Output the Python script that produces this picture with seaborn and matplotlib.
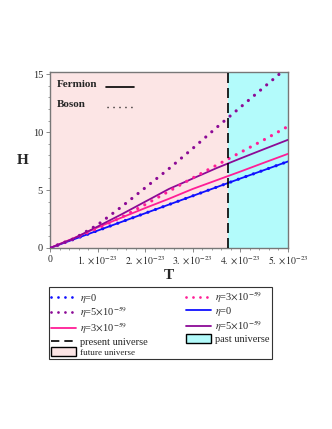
import matplotlib
matplotlib.use("Agg")
import matplotlib.pyplot as plt
import seaborn as sns
import numpy as np
import pandas as pd
from matplotlib.lines import Line2D
from matplotlib.patches import Patch
from matplotlib.ticker import MultipleLocator

sns.set_style("white")
plt.rcParams['font.family'] = ['Liberation Serif', 'DejaVu Serif']
plt.rcParams['mathtext.fontset'] = 'stix'

# ---- data ----
T = [0, 0.5e-23, 1.0e-23, 1.5e-23, 2.0e-23, 2.5e-23, 3.0e-23, 3.5e-23, 4.0e-23, 4.5e-23, 5.0e-23]
H_fermion_eta0 = [0, 0.75, 1.5, 2.25, 3.0, 3.75, 4.5, 5.25, 6.0, 6.73, 7.47]
H_fermion_eta3 = [0, 0.85, 1.78, 2.62, 3.45, 4.25, 5.1, 5.85, 6.6, 7.37, 8.13]
H_fermion_eta5 = [0, 0.82, 1.85, 2.9, 4.0, 5.1, 6.0, 6.9, 7.73, 8.54, 9.34]
H_boson_eta0 = [0, 0.75, 1.5, 2.25, 3.0, 3.75, 4.5, 5.25, 6.0, 6.73, 7.47]
H_boson_eta3 = [0, 0.8, 1.7, 2.65, 3.75, 4.9, 6.05, 7.15, 8.25, 9.35, 10.5]
H_boson_eta5 = [0, 0.8, 2.0, 3.55, 5.2, 6.85, 8.6, 10.4, 12.15, 13.9, 15.65]
T_present = 3.75e-23
T_max = 5.0e-23
xtick_vals = [0, 1e-23, 2e-23, 3e-23, 4e-23, 5e-23]
xtick_labels = ["0", r"$1.\times10^{-23}$", r"$2.\times10^{-23}$", r"$3.\times10^{-23}$",
                r"$4.\times10^{-23}$", r"$5.\times10^{-23}$"]
ytick_vals = [0, 5, 10, 15]

BLUE = "#1010ff"
PINK = "#ff1e96"
PURPLE = "#8c0a96"
FUT = "#fce5e5"
PAST = "#b3fbfb"

DOT = (0.01, 2.5)

fig = plt.figure(figsize=(3.32, 4.29), dpi=100)
ax = fig.add_axes([50/332, 1-248/429, 238/332, 175.5/429])

ax.axvspan(0, T_present, color=FUT, lw=0, zorder=0)
ax.axvspan(T_present, T_max, color=PAST, lw=0, zorder=0)

solid = [(H_fermion_eta0, BLUE), (H_fermion_eta3, PINK), (H_fermion_eta5, PURPLE)]
dotted = [(H_boson_eta0, BLUE), (H_boson_eta3, PINK), (H_boson_eta5, PURPLE)]
for h, c in solid:
    sns.lineplot(x=T, y=h, color=c, lw=1.3, ax=ax, zorder=3)
for h, c in dotted:
    sns.lineplot(x=T, y=h, color=c, lw=2.3, ax=ax, zorder=4)
    ln = ax.lines[-1]
    ln.set_dashes(DOT)
    ln.set_dash_capstyle('round')

ax.axvline(T_present, color="black", lw=1.2, dashes=(6, 3), zorder=5)

ax.set_xlim(0, T_max)
ax.set_ylim(0, 15.15)
ax.set_xticks(xtick_vals)
ax.set_xticklabels(xtick_labels, fontsize=7)
ax.set_yticks(ytick_vals)
ax.set_yticklabels([str(v) for v in ytick_vals], fontsize=7.5)
ax.xaxis.set_minor_locator(MultipleLocator(0.2e-23))
ax.yaxis.set_minor_locator(MultipleLocator(1))
ax.tick_params(axis='both', which='major', direction='out', length=3, width=0.6,
               color='#777777', pad=2, bottom=True, left=True)
ax.tick_params(axis='both', which='minor', direction='out', length=1.5, width=0.5,
               color='#777777', bottom=True, left=True)
for s in ax.spines.values():
    s.set_color('#777777')
    s.set_linewidth(1.0)

ax.set_xlabel("T", fontsize=11, fontweight='bold', labelpad=1)
ax.set_ylabel("H", fontsize=11, fontweight='bold', rotation=0, labelpad=7, va='center')

# inner annotation
ax.text(0.03, 0.93, "Fermion", transform=ax.transAxes, fontsize=8, fontweight='bold',
        va='center', ha='left')
ax.text(0.03, 0.815, "Boson", transform=ax.transAxes, fontsize=8, fontweight='bold',
        va='center', ha='left')
ax.plot([0.235, 0.355], [0.915, 0.915], transform=ax.transAxes, color='black', lw=1.2)
ax.plot([0.24, 0.355], [0.805, 0.805], transform=ax.transAxes, color='black', lw=1.0,
        dashes=(0.8, 3.5))

# legend
def dot_handle(c):
    return Line2D([], [], color=c, lw=2.0, dashes=(0.01, 2.5), dash_capstyle='round')

h_list = [
    dot_handle(BLUE),
    dot_handle(PURPLE),
    Line2D([], [], color=PINK, lw=1.3),
    Line2D([], [], color='black', lw=1.2, dashes=(5, 3)),
    Patch(facecolor=FUT, edgecolor='black', lw=1.0),
    dot_handle(PINK),
    Line2D([], [], color=BLUE, lw=1.3),
    Line2D([], [], color=PURPLE, lw=1.3),
    Patch(facecolor=PAST, edgecolor='black', lw=1.0),
]
l_list = [
    r"$\eta$=0",
    r"$\eta$=5$\times$10$^{-59}$",
    r"$\eta$=3$\times$10$^{-59}$",
    "present universe",
    "future universe",
    r"$\eta$=3$\times$10$^{-59}$",
    r"$\eta$=0",
    r"$\eta$=5$\times$10$^{-59}$",
    "past universe",
]
leg = fig.legend(h_list, l_list, ncol=2, loc='upper left',
                 bbox_to_anchor=(49/332, 1-358/429, 223/332, 71/429),
                 bbox_transform=fig.transFigure, mode='expand', borderaxespad=0,
                 fontsize=7.5, frameon=True, fancybox=False, framealpha=1,
                 handlelength=2.4, handleheight=1.0, handletextpad=0.4,
                 labelspacing=0.02, borderpad=0.2, columnspacing=0.5)
leg.get_frame().set_edgecolor('#333333')
leg.get_frame().set_linewidth(0.8)
leg.get_texts()[4].set_fontsize(6.5)

fig.savefig("out.png", dpi=100, facecolor='white')
